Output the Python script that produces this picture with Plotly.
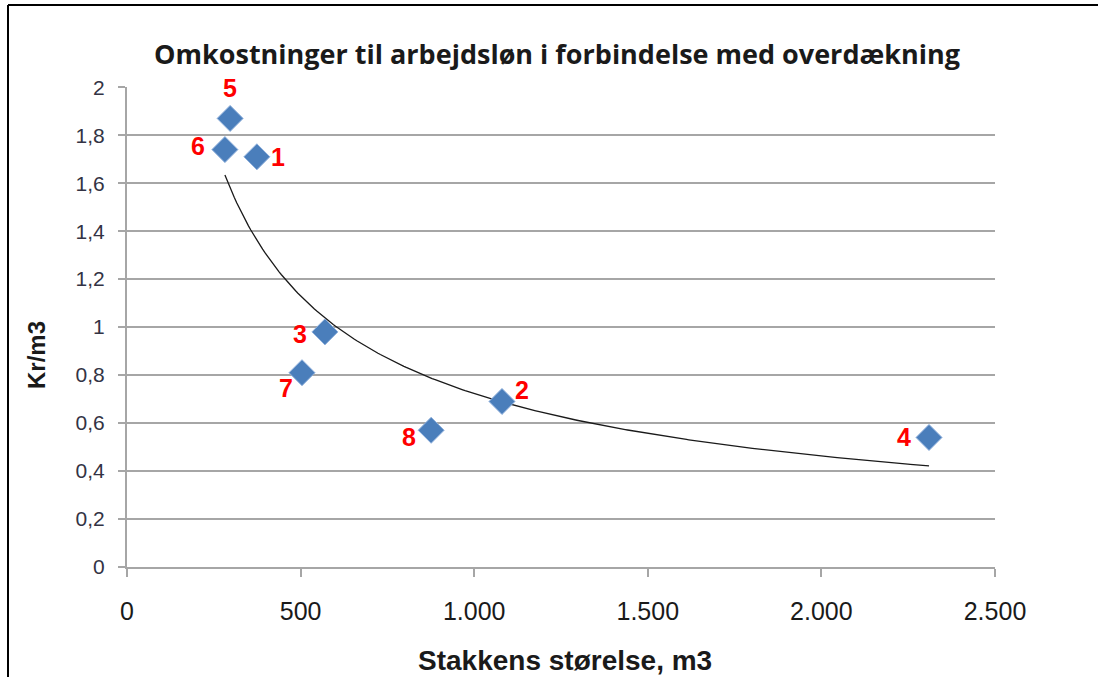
import numpy as np
import plotly.graph_objects as go

# Data
point_labels = ["1", "2", "3", "4", "5", "6", "7", "8"]
stack_size_m3 = [374, 1080, 570, 2310, 297, 282, 504, 876]
cost_kr_per_m3 = [1.71, 0.69, 0.98, 0.54, 1.87, 1.74, 0.81, 0.57]
# pixel offsets of each red label from its marker (style)
label_dx = [21, 20, -25, -25, 0, -27, -16, -22]
label_dy = [0, 11, -2, 0, 30, 4, -15, -7]

x_ticks = [0, 500, 1000, 1500, 2000, 2500]
y_ticks = [0, 0.2, 0.4, 0.6, 0.8, 1.0, 1.2, 1.4, 1.6, 1.8, 2.0]

title_text = "Omkostninger til arbejdsløn i forbindelse med overdækning"
x_title = "Stakkens størelse, m3"
y_title = "Kr/m3"

# Power trendline (as in a spreadsheet power fit)
lx = np.log(np.array(stack_size_m3, dtype=float))
ly = np.log(np.array(cost_kr_per_m3, dtype=float))
b, ln_a = np.polyfit(lx, ly, 1)
xt = np.linspace(min(stack_size_m3), max(stack_size_m3), 300)
yt = np.exp(ln_a) * xt ** b

fig = go.Figure()
fig.add_trace(go.Scatter(
    x=xt, y=yt, mode="lines",
    line=dict(color="#1a1a1a", width=1.3),
    hoverinfo="skip", showlegend=False,
))
fig.add_trace(go.Scatter(
    x=stack_size_m3, y=cost_kr_per_m3,
    mode="markers",
    marker=dict(symbol="diamond", size=20, color="#4a7ebb",
                line=dict(color="#8fb0dc", width=1)),
    cliponaxis=False,
    showlegend=False,
))

W, H = 1098, 677
ml, mr, mt, mb = 127, 103, 87, 110
pw, ph = W - ml - mr, H - mt - mb
bx = (8 - ml) / pw
by = 1 + (mt - 5) / ph
bx_right = (W - ml) / pw

annotations = [
    dict(text=f"<b>{t}</b>", x=xv, y=yv, xref="x", yref="y",
         xshift=dx, yshift=dy, showarrow=False,
         xanchor="center", yanchor="middle",
         font=dict(family="Liberation Sans, Arial", size=25, color="#ff0000"))
    for t, xv, yv, dx, dy in zip(point_labels, stack_size_m3, cost_kr_per_m3, label_dx, label_dy)
]
annotations += [
    dict(text=f"<b>{x_title}</b>", xref="paper", yref="paper",
         x=(565 - ml) / pw, y=(H - mb - 660) / ph,
         xanchor="center", yanchor="middle", showarrow=False,
         font=dict(family="Liberation Sans, Arial", size=28, color="#1a1a1a")),
    dict(text=f"<b>{y_title}</b>", xref="paper", yref="paper",
         x=(36 - ml) / pw, y=(H - mb - 355) / ph, textangle=-90,
         xanchor="center", yanchor="middle", showarrow=False,
         font=dict(family="Liberation Sans, Arial", size=24, color="#1a1a1a")),
]

fig.update_layout(
    width=W, height=H,
    margin=dict(l=ml, r=mr, t=mt, b=mb, pad=0),
    paper_bgcolor="white", plot_bgcolor="white",
    separators=",.",
    title=dict(text=f"<b>{title_text}</b>", x=557 / W, xanchor="center",
               y=1 - 55 / H, yanchor="middle", yref="container",
               font=dict(family="Open Sans", size=27, color="#1a1a1a")),
    shapes=[
        dict(type="rect", xref="paper", yref="paper", x0=(1070 - ml) / pw, x1=bx_right + 0.05,
             y0=-0.5, y1=by - 0.01, fillcolor="white", line=dict(width=0), layer="above"),
        dict(type="line", xref="paper", yref="paper", x0=bx, x1=bx, y0=-0.5, y1=by,
             line=dict(color="black", width=2)),
        dict(type="line", xref="paper", yref="paper", x0=bx, x1=bx_right, y0=by, y1=by,
             line=dict(color="black", width=2)),
    ],
    annotations=annotations,
)
fig.update_xaxes(
    range=[0, 2500], tickvals=x_ticks, tickformat=",d",
    showgrid=False, zeroline=False,
    showline=True, linecolor="#a6a6a6", linewidth=2,
    ticks="outside", ticklen=8, tickcolor="#a6a6a6", tickwidth=1.5,
    ticklabelstandoff=13,
    tickfont=dict(family="Liberation Sans, Arial", size=25, color="#1a1a1a"),
)
fig.update_yaxes(
    range=[0, 2.001], tickvals=y_ticks,
    showgrid=True, gridcolor="#a6a6a6", gridwidth=1.5,
    zeroline=False,
    showline=True, linecolor="#a6a6a6", linewidth=2,
    ticks="outside", ticklen=7, tickcolor="#a6a6a6", tickwidth=1.5,
    ticklabelstandoff=9,
    tickfont=dict(family="Liberation Sans, Arial", size=21, color="#333344"),
)

fig.write_html(
    "out.html",
    config={"displayModeBar": False},
    post_script="document.body.style.margin='0';document.body.style.overflow='hidden';",
)
